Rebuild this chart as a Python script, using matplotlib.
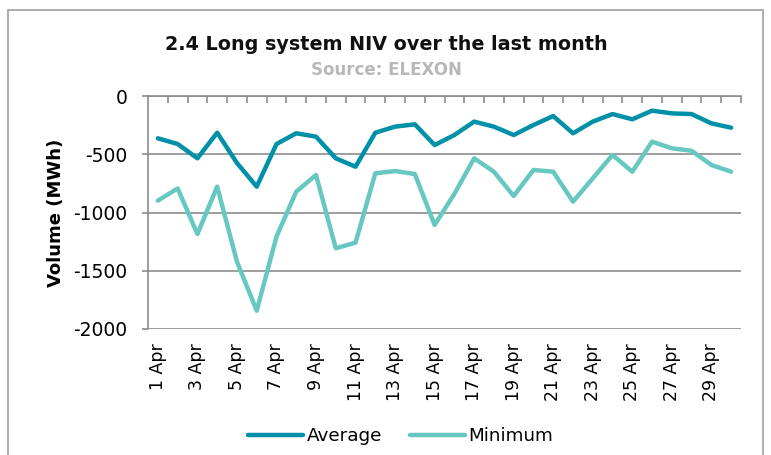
import matplotlib
matplotlib.use("Agg")
import matplotlib.pyplot as plt
from matplotlib.patches import Rectangle
import numpy as np

days = [f"{d} Apr" for d in range(1, 31)]
average = [-363, -412, -535, -315, -575, -778, -412, -320, -349, -535,
           -607, -315, -263, -243, -421, -335, -220, -263, -335, -249,
           -172, -320, -220, -155, -200, -126, -149, -155, -235, -272]
minimum = [-898, -793, -1185, -778, -1422, -1843, -1207, -821, -678, -1307,
           -1259, -664, -644, -670, -1107, -840, -535, -650, -858, -635,
           -650, -907, -707, -506, -650, -392, -449, -470, -592, -650]
yticks = [0, -500, -1000, -1500, -2000]

W, H = 771, 455
fig = plt.figure(figsize=(W / 100, H / 100), dpi=100)
plt.rcParams['font.family'] = ['DejaVu Sans']

# outer frame
fig.patches.append(Rectangle((8 / W, -0.1), (763 - 8) / W, (H - 10) / H + 0.1,
                             transform=fig.transFigure, fill=False,
                             edgecolor='#a0a0a0', linewidth=1.2))

left, right, top, bottom = 148, 741, 96, 329
ax = fig.add_axes([left / W, 1 - bottom / H, (right - left) / W, (bottom - top) / H])

x = np.arange(len(days))
ax.plot(x, average, color='#0090a8', lw=3.2, solid_capstyle='round', solid_joinstyle='round', label='Average')
ax.plot(x, minimum, color='#66c8c0', lw=3.2, solid_capstyle='round', solid_joinstyle='round', label='Minimum')

ax.set_xlim(-0.5, len(days) - 0.5)
ax.set_ylim(-2000, 0)
ax.set_yticks(yticks)
ax.set_yticklabels([str(v) for v in yticks], fontsize=13.5)
ax.yaxis.grid(True, color='#8c8c8c', lw=1.2)
ax.set_axisbelow(True)
ax.tick_params(axis='y', length=4, pad=11, color='#8c8c8c', width=1.2)

# x tick labels every other day, at bottom; tick marks on top spine
ax.set_xticks(x[::2])
ax.set_xticklabels(days[::2], rotation=90, fontsize=12.5)
ax.tick_params(axis='x', which='major', length=0, pad=10)
ax.set_xticks(np.arange(0.5, len(days) - 0.5 + 1, 1), minor=True)
ax.tick_params(axis='x', which='minor', length=5, top=True, bottom=False,
               direction='in', color='#8c8c8c', width=1.2)

for s in ['right', 'bottom']:
    ax.spines[s].set_visible(False)
for s in ['left', 'top']:
    ax.spines[s].set_color('#8c8c8c')
    ax.spines[s].set_linewidth(1.2)

ax.set_ylabel('Volume (MWh)', fontsize=13, fontweight='bold', labelpad=6)

fig.text(386 / W, 1 - 45 / H, '2.4 Long system NIV over the last month',
         ha='center', va='center', fontsize=13.8, fontweight='bold', color='#111111')
fig.text(386 / W, 1 - 70 / H, 'Source: ELEXON', ha='center', va='center',
         fontsize=12, fontweight='bold', color='#b8b8b8')

fig.legend(loc='center', bbox_to_anchor=(401 / W, 1 - 436 / H), ncol=2, frameon=False,
           fontsize=13.2, handlelength=3.0, handletextpad=0.2, columnspacing=1.5)

fig.savefig('out.png', dpi=100)
